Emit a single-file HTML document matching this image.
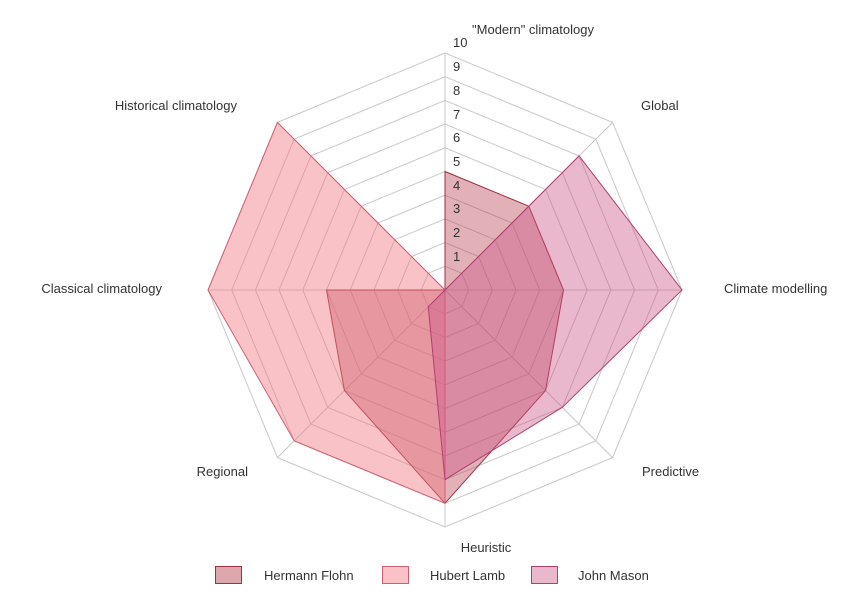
<!DOCTYPE html>
<html><head><style>body{margin:0;background:#fff}svg{display:block}text{font-family:"Liberation Sans",sans-serif;font-size:13px;fill:#333}</style></head>
<body>
<svg width="861" height="612" viewBox="0 0 861 612">
<g transform="translate(445,290)" fill="none" stroke="#c8c8c8" stroke-width="1">
<polygon vector-effect="non-scaling-stroke" transform="scale(23.7)" points="0,-1 .7071,-.7071 1,0 .7071,.7071 0,1 -.7071,.7071 -1,0 -.7071,-.7071"/>
<polygon vector-effect="non-scaling-stroke" transform="scale(47.4)" points="0,-1 .7071,-.7071 1,0 .7071,.7071 0,1 -.7071,.7071 -1,0 -.7071,-.7071"/>
<polygon vector-effect="non-scaling-stroke" transform="scale(71.1)" points="0,-1 .7071,-.7071 1,0 .7071,.7071 0,1 -.7071,.7071 -1,0 -.7071,-.7071"/>
<polygon vector-effect="non-scaling-stroke" transform="scale(94.8)" points="0,-1 .7071,-.7071 1,0 .7071,.7071 0,1 -.7071,.7071 -1,0 -.7071,-.7071"/>
<polygon vector-effect="non-scaling-stroke" transform="scale(118.5)" points="0,-1 .7071,-.7071 1,0 .7071,.7071 0,1 -.7071,.7071 -1,0 -.7071,-.7071"/>
<polygon vector-effect="non-scaling-stroke" transform="scale(142.2)" points="0,-1 .7071,-.7071 1,0 .7071,.7071 0,1 -.7071,.7071 -1,0 -.7071,-.7071"/>
<polygon vector-effect="non-scaling-stroke" transform="scale(165.9)" points="0,-1 .7071,-.7071 1,0 .7071,.7071 0,1 -.7071,.7071 -1,0 -.7071,-.7071"/>
<polygon vector-effect="non-scaling-stroke" transform="scale(189.6)" points="0,-1 .7071,-.7071 1,0 .7071,.7071 0,1 -.7071,.7071 -1,0 -.7071,-.7071"/>
<polygon vector-effect="non-scaling-stroke" transform="scale(213.3)" points="0,-1 .7071,-.7071 1,0 .7071,.7071 0,1 -.7071,.7071 -1,0 -.7071,-.7071"/>
<polygon vector-effect="non-scaling-stroke" transform="scale(237)" points="0,-1 .7071,-.7071 1,0 .7071,.7071 0,1 -.7071,.7071 -1,0 -.7071,-.7071"/>
<path d="M0,0V-237M0,0L167.6,-167.6M0,0H237M0,0L167.6,167.6M0,0V237M0,0L-167.6,167.6M0,0H-237M0,0L-167.6,-167.6"/>
</g>
<g transform="translate(445,290) scale(23.7)">
<polygon vector-effect="non-scaling-stroke" points="0,-5 3.536,-3.536 5,0 4.243,4.243 0,9 -4.243,4.243 -5,0 0,0" fill="rgba(180,60,75,0.4)" stroke="#9e3040" stroke-width="1"/>
<polygon vector-effect="non-scaling-stroke" points="0,0 0,0 0,0 0,0 0,9 -6.364,6.364 -10,0 -7.071,-7.071" fill="rgba(240,120,130,0.45)" stroke="#d06070" stroke-width="1"/>
<polygon vector-effect="non-scaling-stroke" points="0,0 5.657,-5.657 10,0 4.95,4.95 0,8 -0.707,0.707 0,0 0,0" fill="rgba(205,85,135,0.42)" stroke="#b04070" stroke-width="1"/>
</g>
<g>
<text x="453" y="261">1</text><text x="453" y="237">2</text><text x="453" y="213">3</text><text x="453" y="190">4</text><text x="453" y="166">5</text><text x="453" y="142">6</text><text x="453" y="119">7</text><text x="453" y="95">8</text><text x="453" y="71">9</text><text x="453" y="47">10</text>
</g>
<text x="533" y="34" text-anchor="middle">"Modern" climatology</text>
<text x="641" y="110">Global</text>
<text x="724" y="293">Climate modelling</text>
<text x="642" y="476">Predictive</text>
<text x="486" y="552" text-anchor="middle">Heuristic</text>
<text x="248" y="476" text-anchor="end">Regional</text>
<text x="162" y="293" text-anchor="end">Classical climatology</text>
<text x="237" y="110" text-anchor="end">Historical climatology</text>
<rect x="215.5" y="566.5" width="26" height="17" fill="rgba(180,60,75,0.45)" stroke="#9e3040"/>
<text x="264" y="580">Hermann Flohn</text>
<rect x="382.5" y="566.5" width="26" height="17" fill="rgba(240,120,130,0.45)" stroke="#d06070"/>
<text x="430" y="580">Hubert Lamb</text>
<rect x="531.5" y="566.5" width="26" height="17" fill="rgba(205,85,135,0.42)" stroke="#b04070"/>
<text x="578" y="580">John Mason</text>
</svg>
</body></html>
